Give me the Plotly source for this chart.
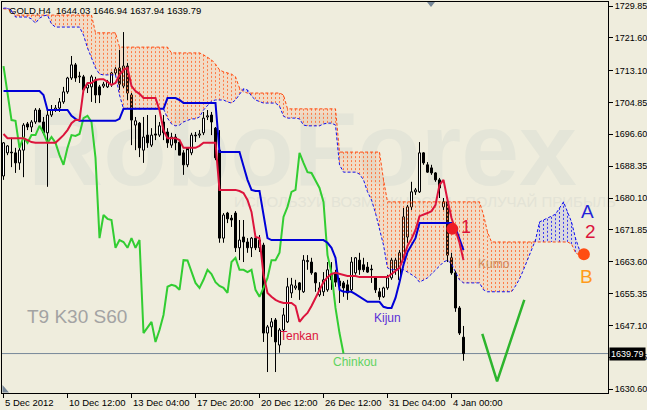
import plotly.graph_objects as go

# ---------------- data ----------------
opens = [1685.8, 1691.8, 1692.0, 1691.8, 1689.2, 1692.5, 1699.3, 1698.5, 1699.8, 1702.9,
         1699.8, 1697.0, 1701.6, 1702.9, 1703.4, 1705.0, 1707.6, 1711.2, 1714.6, 1711.5,
         1711.5, 1708.6, 1708.9, 1710.7, 1708.9, 1709.1, 1708.9, 1709.4, 1712.5, 1713.8,
         1709.1, 1714.3, 1706.8, 1699.0, 1699.5, 1692.5, 1696.4, 1693.8, 1696.7, 1696.4,
         1699.8, 1697.2, 1693.8, 1695.9, 1694.6, 1691.8, 1688.7, 1691.8, 1696.4, 1696.4,
         1697.0, 1701.1, 1701.6, 1698.2, 1692.5, 1669.7, 1676.2, 1674.9, 1676.2, 1667.2,
         1670.0, 1668.7, 1667.2, 1669.7, 1667.2, 1667.9, 1645.1, 1646.7, 1648.5, 1642.0,
         1645.9, 1648.0, 1655.5, 1656.8, 1658.1, 1655.8, 1663.6, 1663.5, 1660.7, 1655.0,
         1655.8, 1656.3, 1658.9, 1660.7, 1658.6, 1658.1, 1657.6, 1656.3, 1660.7, 1664.0,
         1662.8, 1662.2, 1661.7, 1659.4, 1655.8, 1654.5, 1656.8, 1659.4, 1661.5, 1658.9,
         1663.5, 1670.0, 1677.8, 1681.7, 1681.7, 1691.8, 1688.7, 1687.9, 1686.6, 1684.8,
         1677.8, 1679.1, 1664.6, 1660.7, 1651.6, 1644.03]
highs = [1694.6, 1693.8, 1695.7, 1693.1, 1693.3, 1699.5, 1699.8, 1700.3, 1703.4, 1703.4,
         1701.1, 1702.9, 1704.2, 1704.2, 1706.0, 1708.9, 1711.5, 1716.9, 1715.1, 1712.8,
         1712.0, 1709.9, 1712.0, 1711.5, 1709.4, 1710.2, 1710.7, 1712.8, 1714.0, 1718.5,
         1723.1, 1715.1, 1707.3, 1701.1, 1699.8, 1701.1, 1701.6, 1698.2, 1701.6, 1699.8,
         1701.6, 1698.2, 1697.0, 1696.7, 1695.1, 1692.5, 1692.5, 1697.0, 1697.2, 1697.7,
         1702.4, 1702.9, 1702.4, 1698.5, 1697.7, 1676.2, 1676.5, 1675.7, 1676.7, 1674.4,
         1674.4, 1669.7, 1670.0, 1670.0, 1670.5, 1668.5, 1647.2, 1649.0, 1649.0, 1646.4,
         1651.6, 1659.4, 1659.4, 1658.9, 1658.3, 1665.3, 1665.3, 1664.6, 1660.9, 1658.3,
         1660.9, 1663.5, 1663.5, 1661.5, 1659.4, 1658.6, 1658.9, 1664.8, 1664.8, 1665.9,
         1664.6, 1663.5, 1662.8, 1659.6, 1656.8, 1657.1, 1660.2, 1664.6, 1664.6, 1666.6,
         1677.5, 1678.3, 1684.3, 1682.7, 1694.6, 1692.0, 1689.4, 1688.7, 1686.8, 1685.3,
         1680.1, 1679.6, 1665.9, 1661.2, 1652.1, 1646.94]
lows = [1684.8, 1691.2, 1688.1, 1686.6, 1687.4, 1685.5, 1697.7, 1697.2, 1699.3, 1699.8,
        1696.4, 1683.0, 1701.1, 1702.4, 1702.4, 1704.5, 1707.1, 1710.7, 1710.2, 1709.9,
        1707.6, 1707.3, 1705.0, 1704.7, 1704.7, 1708.6, 1708.6, 1708.9, 1712.0, 1708.1,
        1708.6, 1705.5, 1693.8, 1692.5, 1690.7, 1689.2, 1693.1, 1693.3, 1695.1, 1695.9,
        1695.1, 1693.1, 1693.1, 1692.5, 1691.2, 1686.1, 1688.1, 1691.2, 1694.6, 1695.7,
        1696.4, 1700.3, 1696.4, 1689.9, 1668.5, 1668.5, 1673.6, 1672.6, 1666.1, 1664.0,
        1663.5, 1665.9, 1664.8, 1666.6, 1666.1, 1642.8, 1635.0, 1644.1, 1635.0, 1640.0,
        1645.4, 1647.7, 1654.2, 1656.3, 1653.7, 1655.5, 1661.5, 1660.2, 1655.8, 1654.5,
        1654.7, 1655.8, 1656.3, 1657.1, 1652.9, 1654.5, 1653.7, 1655.5, 1660.2, 1660.2,
        1660.9, 1660.7, 1658.1, 1655.5, 1653.7, 1654.2, 1656.3, 1658.9, 1660.2, 1657.6,
        1663.3, 1668.5, 1677.0, 1680.9, 1681.4, 1688.7, 1686.6, 1686.1, 1684.3, 1680.1,
        1677.0, 1663.5, 1660.2, 1650.6, 1644.6, 1637.94]
closes = [1694.4, 1693.6, 1691.8, 1689.2, 1692.5, 1699.0, 1698.5, 1699.8, 1702.9, 1699.8,
          1697.0, 1701.6, 1702.9, 1703.4, 1705.0, 1707.6, 1711.2, 1714.6, 1711.2, 1711.7,
          1708.1, 1709.4, 1711.5, 1706.8, 1706.8, 1709.6, 1710.2, 1712.5, 1713.5, 1709.6,
          1714.3, 1707.3, 1700.3, 1700.1, 1693.1, 1695.9, 1694.4, 1696.4, 1696.4, 1698.8,
          1697.0, 1694.4, 1695.9, 1694.4, 1691.2, 1688.7, 1693.1, 1696.4, 1696.2, 1696.7,
          1700.8, 1701.4, 1699.8, 1690.5, 1669.7, 1675.7, 1674.7, 1674.4, 1667.2, 1669.2,
          1668.7, 1667.2, 1669.7, 1667.2, 1669.2, 1645.1, 1646.7, 1648.0, 1642.8, 1645.9,
          1649.8, 1657.1, 1657.6, 1657.3, 1656.3, 1664.0, 1663.9, 1660.7, 1658.1, 1656.8,
          1658.9, 1661.5, 1660.4, 1658.3, 1657.3, 1656.8, 1655.5, 1663.5, 1664.6, 1661.5,
          1661.5, 1660.9, 1661.5, 1656.3, 1654.5, 1656.8, 1659.4, 1664.0, 1664.0, 1665.9,
          1675.2, 1677.8, 1681.7, 1682.2, 1691.8, 1689.2, 1686.8, 1686.6, 1684.8, 1682.7,
          1679.1, 1665.3, 1660.7, 1651.6, 1645.1, 1639.79]

tenkan = [1696.7, 1695.6, 1695.6, 1695.6, 1695.6, 1695.6, 1695.1, 1694.6, 1694.4, 1694.4,
          1694.4, 1694.4, 1694.4, 1694.4, 1695.4, 1696.4, 1697.7, 1699.5, 1700.3, 1700.3,
          1708.1, 1709.9, 1709.9, 1710.7, 1710.9, 1710.9, 1710.2, 1709.4, 1709.9, 1712.0,
          1713.3, 1713.8, 1709.1, 1707.8, 1707.1, 1706.0, 1706.0, 1706.0, 1706.0, 1702.9,
          1697.7, 1695.6, 1695.6, 1695.6, 1695.1, 1693.1, 1693.1, 1693.1, 1693.1, 1693.6,
          1694.4, 1694.4, 1694.4, 1694.4, 1682.2, 1682.2, 1682.2, 1682.2, 1682.2, 1681.9,
          1681.4, 1679.6, 1676.5, 1670.0, 1669.7, 1660.2, 1655.5, 1654.5, 1653.7, 1653.2,
          1652.9, 1652.9, 1652.9, 1652.1, 1648.0, 1649.3, 1650.3, 1652.1, 1654.2, 1656.3,
          1658.3, 1659.6, 1660.4, 1660.7, 1660.4, 1660.2, 1659.9, 1659.9, 1659.9, 1659.6,
          1659.6, 1659.6, 1659.6, 1659.6, 1659.6, 1659.6, 1659.6, 1660.4, 1661.2, 1662.0,
          1664.6, 1667.7, 1669.5, 1671.8, 1675.4, 1675.7, 1676.2, 1676.7, 1678.3, 1683.5,
          1684.8, 1679.6, 1674.9, 1671.8, 1668.5, 1664.0]
kijun = [1707.8, 1707.8, 1707.8, 1707.8, 1707.8, 1707.8, 1707.8, 1707.8, 1707.8, 1707.8,
         1706.8, 1702.9, 1702.9, 1702.9, 1702.9, 1702.9, 1702.9, 1701.4, 1700.6, 1700.1,
         1700.1, 1700.1, 1700.1, 1700.1, 1700.1, 1700.1, 1700.1, 1700.1, 1700.1, 1700.6,
         1703.2, 1703.2, 1703.2, 1703.2, 1703.2, 1703.2, 1703.2, 1703.2, 1703.2, 1703.2,
         1703.2, 1706.0, 1706.0, 1706.0, 1705.5, 1704.7, 1704.7, 1704.7, 1704.7, 1704.7,
         1704.7, 1704.7, 1704.7, 1704.7, 1692.0, 1692.0, 1692.0, 1692.0, 1692.0, 1692.0,
         1688.4, 1684.8, 1682.2, 1681.9, 1681.9, 1675.7, 1669.7, 1669.2, 1669.2, 1669.2,
         1669.2, 1669.2, 1669.2, 1669.2, 1669.2, 1669.2, 1669.2, 1669.2, 1669.2, 1669.2,
         1669.2, 1668.5, 1667.2, 1664.6, 1656.3, 1655.8, 1655.8, 1655.8, 1655.2, 1654.5,
         1653.7, 1653.2, 1653.2, 1653.2, 1653.2, 1651.9, 1651.6, 1651.6, 1654.2, 1658.3,
         1662.8, 1666.1, 1667.9, 1669.7, 1673.6, 1673.6, 1673.6, 1673.6, 1673.6, 1673.6,
         1673.6, 1673.6, 1673.6, 1672.3, 1669.2, 1666.6]
senkou_a = [1729.3, 1729.3, 1728.8, 1727.0, 1727.0, 1727.0, 1727.0, 1726.5, 1725.4, 1726.7,
            1727.3, 1727.5, 1725.2, 1724.4, 1724.4, 1724.4, 1724.4, 1724.4, 1724.4, 1724.4,
            1722.3, 1719.0, 1716.4, 1713.8, 1712.2, 1712.0, 1712.0, 1712.0, 1712.0, 1706.8,
            1703.2, 1703.2, 1703.2, 1703.2, 1703.2, 1703.2, 1703.2, 1703.2, 1703.2, 1703.2,
            1703.2, 1700.8, 1699.3, 1698.8, 1699.0, 1699.8, 1700.3, 1700.6, 1700.6, 1701.1,
            1702.9, 1704.2, 1705.2, 1705.5, 1705.5, 1705.5, 1705.0, 1704.7, 1705.5, 1707.1,
            1708.4, 1708.1, 1706.5, 1705.5, 1705.0, 1704.7, 1704.7, 1704.7, 1704.7, 1703.9,
            1701.3, 1700.8, 1700.8, 1700.8, 1700.6, 1699.0, 1698.8, 1698.8, 1698.8, 1698.8,
            1699.3, 1699.5, 1699.5, 1699.0, 1688.7, 1686.8, 1686.8, 1686.8, 1686.8, 1686.3,
            1684.8, 1681.7, 1679.6, 1676.2, 1672.3, 1667.9, 1662.0, 1661.5, 1661.5, 1661.5,
            1661.5, 1660.9, 1660.2, 1659.6, 1658.3, 1658.9, 1659.4, 1660.4, 1661.5, 1662.5,
            1663.5, 1664.0, 1663.0, 1660.9, 1658.9, 1658.1, 1658.1, 1658.1, 1658.1, 1658.1,
            1656.3, 1655.8, 1655.8, 1655.8, 1655.8, 1655.8, 1655.8, 1655.8, 1657.3, 1659.1,
            1661.5, 1664.0, 1666.9, 1669.2, 1673.9, 1674.4, 1674.7, 1675.2, 1675.9, 1677.5,
            1679.1, 1676.5, 1673.9, 1669.7, 1666.6, 1665.1]
senkou_b = [1729.1, 1729.1, 1728.3, 1727.5, 1727.5, 1727.5, 1727.5, 1727.5, 1727.5, 1727.5,
            1727.5, 1727.5, 1727.5, 1727.5, 1727.5, 1727.5, 1727.5, 1727.5, 1727.5, 1727.5,
            1727.5, 1727.5, 1727.5, 1722.9, 1722.9, 1722.9, 1722.9, 1722.9, 1722.9, 1719.2,
            1719.2, 1719.2, 1719.2, 1719.2, 1719.2, 1719.2, 1719.2, 1719.2, 1719.2, 1719.2,
            1719.2, 1719.2, 1717.7, 1717.7, 1717.7, 1717.7, 1717.7, 1717.7, 1717.7, 1717.7,
            1717.2, 1716.6, 1715.9, 1714.8, 1713.3, 1712.8, 1712.5, 1712.2, 1711.5, 1708.6,
            1707.6, 1707.3, 1707.3, 1707.3, 1707.3, 1707.3, 1707.3, 1707.3, 1707.3, 1707.3,
            1706.8, 1703.2, 1703.2, 1703.2, 1703.2, 1703.2, 1703.2, 1703.2, 1703.2, 1703.2,
            1703.2, 1703.2, 1703.2, 1703.2, 1692.0, 1692.0, 1692.0, 1692.0, 1692.0, 1692.0,
            1692.0, 1692.0, 1692.0, 1692.0, 1692.0, 1684.8, 1679.1, 1679.1, 1679.1, 1679.1,
            1679.1, 1679.1, 1679.1, 1679.1, 1679.1, 1679.1, 1679.1, 1679.1, 1679.1, 1679.1,
            1679.1, 1679.1, 1679.1, 1679.1, 1679.1, 1679.1, 1679.1, 1679.1, 1679.1, 1679.1,
            1675.7, 1671.3, 1668.7, 1668.7, 1668.7, 1668.7, 1668.7, 1668.7, 1668.7, 1668.7,
            1668.7, 1668.7, 1668.7, 1668.7, 1668.7, 1668.7, 1668.7, 1668.7, 1668.7, 1668.7,
            1668.7, 1668.7, 1668.2, 1665.9, 1665.3, 1665.1]

chinkou_shift = 30
x_tick_bars = [0, 16, 32, 48, 64, 80, 96, 112]
x_tick_labels = ["5 Dec 2012", "10 Dec 12:00", "13 Dec 04:00", "17 Dec 20:00",
                 "20 Dec 12:00", "26 Dec 12:00", "31 Dec 04:00", "4 Jan 00:00"]
y_tick_values = [1729.85, 1721.60, 1713.10, 1704.85, 1696.60, 1688.35, 1680.10,
                 1671.85, 1663.60, 1655.35, 1647.10, 1638.85, 1630.60]
last_price = 1639.79
signal_bar = [112.2]
signal_price = [1672.1]
cloud_end_bar = [145.1]
cloud_end_price = [1665.5]
forecast_bars = [119.7, 123.4, 130.2]
forecast_prices = [1644.9, 1632.6, 1653.7]

# ---------------- layout helpers (pixel -> paper) ----------------
W, H = 647, 410
PL, PR, PT, PB = 2, 608, 2, 393


def px(x):
    return (x - PL) / (PR - PL)


def py(y):
    return (PB - y) / (PB - PT)


FONT = "Liberation Sans, Arial, sans-serif"
BG = "#efeddd"

n = len(closes)
idx = list(range(n))
cloud_x = list(range(len(senkou_a)))
cloud_top = [max(a, b) for a, b in zip(senkou_a, senkou_b)]

fig = go.Figure()

# cloud tint (orange where span B is above, blue where span A is above)
fig.add_trace(go.Scatter(x=cloud_x, y=senkou_a, mode="lines", line=dict(width=0),
                         hoverinfo="skip", showlegend=False))
fig.add_trace(go.Scatter(x=cloud_x, y=cloud_top, mode="lines", line=dict(width=0),
                         fill="tonexty", fillcolor="rgba(255,125,70,0.15)",
                         hoverinfo="skip", showlegend=False))
fig.add_trace(go.Scatter(x=cloud_x, y=senkou_b, mode="lines", line=dict(width=0),
                         hoverinfo="skip", showlegend=False))
fig.add_trace(go.Scatter(x=cloud_x, y=cloud_top, mode="lines", line=dict(width=0),
                         fill="tonexty", fillcolor="rgba(50,50,235,0.10)",
                         hoverinfo="skip", showlegend=False))

# cloud hatching (dotted columns)
ox, oy, ux, uy = [], [], [], []
for i in cloud_x:
    a, b = senkou_a[i], senkou_b[i]
    if b > a + 0.05:
        ox += [i, i, None]; oy += [b, a, None]
    elif a > b + 0.05:
        ux += [i, i, None]; uy += [a, b, None]
fig.add_trace(go.Scatter(x=ox, y=oy, mode="lines",
                         line=dict(color="#ff7a45", width=1, dash="2px,2px"),
                         hoverinfo="skip", showlegend=False))
fig.add_trace(go.Scatter(x=ux, y=uy, mode="lines",
                         line=dict(color="#3a3af0", width=1, dash="2px,2px"),
                         hoverinfo="skip", showlegend=False))

fig.add_trace(go.Scatter(x=cloud_x, y=senkou_b, mode="lines",
                         line=dict(color="#ff4a10", width=1, dash="3px,2px"),
                         hoverinfo="skip", showlegend=False))
fig.add_trace(go.Scatter(x=cloud_x, y=senkou_a, mode="lines",
                         line=dict(color="#1010ee", width=1, dash="3px,2px"),
                         hoverinfo="skip", showlegend=False))

# candle wicks (split so they don't cross bodies)
wx, wy = [], []
for i in idx:
    top = max(opens[i], closes[i])
    bot = min(opens[i], closes[i])
    wx += [i, i, None, i, i, None]
    wy += [highs[i], top, None, bot, lows[i], None]
fig.add_trace(go.Scatter(x=wx, y=wy, mode="lines", line=dict(color="black", width=1),
                         hoverinfo="skip", showlegend=False))

# candle bodies
bx_up, bb_up, bh_up, bx_dn, bb_dn, bh_dn = [], [], [], [], [], []
for i in idx:
    b = min(opens[i], closes[i])
    h = max(abs(closes[i] - opens[i]), 0.15)
    if closes[i] >= opens[i]:
        bx_up.append(i); bb_up.append(b); bh_up.append(h)
    else:
        bx_dn.append(i); bb_dn.append(b); bh_dn.append(h)
fig.add_trace(go.Bar(x=bx_up, y=bh_up, base=bb_up, width=0.5,
                     marker=dict(color="white", line=dict(color="black", width=1)),
                     hoverinfo="skip", showlegend=False))
fig.add_trace(go.Bar(x=bx_dn, y=bh_dn, base=bb_dn, width=0.5,
                     marker=dict(color="black", line=dict(color="black", width=1)),
                     hoverinfo="skip", showlegend=False))

# chinkou (close shifted back)
fig.add_trace(go.Scatter(x=[i - chinkou_shift for i in idx[chinkou_shift:]],
                         y=closes[chinkou_shift:], mode="lines",
                         line=dict(color="#32cd32", width=2),
                         hoverinfo="skip", showlegend=False))
fig.add_trace(go.Scatter(x=idx, y=kijun, mode="lines",
                         line=dict(color="#0000d8", width=2),
                         hoverinfo="skip", showlegend=False))
fig.add_trace(go.Scatter(x=idx, y=tenkan, mode="lines",
                         line=dict(color="#dc143c", width=2),
                         hoverinfo="skip", showlegend=False))

# forecast V line and markers
fig.add_trace(go.Scatter(x=forecast_bars, y=forecast_prices, mode="lines",
                         line=dict(color="#2db52d", width=2.5),
                         hoverinfo="skip", showlegend=False))
fig.add_trace(go.Scatter(x=signal_bar, y=signal_price, mode="markers",
                         marker=dict(color="#ee1c25", size=12),
                         hoverinfo="skip", showlegend=False))
fig.add_trace(go.Scatter(x=cloud_end_bar, y=cloud_end_price, mode="markers",
                         marker=dict(color="#ff4d12", size=12),
                         hoverinfo="skip", showlegend=False))

shapes = [
    # watermark
    dict(type="rect", xref="paper", yref="paper", x0=px(40), x1=px(565), y0=py(215), y1=py(78),
         line=dict(width=0), fillcolor="rgba(0,0,0,0)", layer="below",
         label=dict(text="RoboForex",
                    font=dict(size=104, color="#e4e5d8", family=FONT, weight="bold"),
                    textposition="top center")),
    dict(type="rect", xref="paper", yref="paper", x0=px(270), x1=px(580), y0=py(208), y1=py(192),
         line=dict(width=0), fillcolor="rgba(0,0,0,0)", layer="below",
         label=dict(text="ИСПОЛЬЗУЙ ВОЗМОЖНОСТИ · ПОЛУЧАЙ ПРИБЫЛЬ",
                    font=dict(size=15, color="#e3e3d6", family=FONT),
                    textposition="middle center")),
    # last price line
    dict(type="line", xref="paper", yref="y", x0=0, x1=1, y0=last_price, y1=last_price,
         line=dict(color="#778899", width=1), layer="below"),
    # chart shift marker
    dict(type="path", xref="paper", yref="paper",
         path=f"M {px(427)} {py(2)} L {px(435)} {py(2)} L {px(431)} {py(7)} Z",
         fillcolor="#778899", line=dict(width=0)),
    dict(type="path", xref="paper", yref="paper",
         path=f"M {px(2.5)} {py(385)} L {px(2.5)} {py(392.5)} L {px(9)} {py(392.5)} Z",
         fillcolor="#778899", line=dict(width=0)),
]

ann = []
for b, t in zip(x_tick_bars, x_tick_labels):
    ann.append(dict(x=b, y=0, xref="x", yref="paper", text=t, showarrow=False,
                    xanchor="left", yanchor="middle", yshift=-9, xshift=-1,
                    font=dict(size=9.5, color="black", family=FONT)))
ann.append(dict(x=1, y=last_price, xref="paper", yref="y", text="1639.79", showarrow=False,
                xanchor="left", yanchor="middle", xshift=1, bgcolor="black", borderpad=1,
                font=dict(size=9, color="white", family=FONT)))
ann.append(dict(x=px(7), y=py(10), xref="paper", yref="paper",
                text="GOLD,H4\u00a0 1644.03 1646.94 1637.94 1639.79", showarrow=False,
                xanchor="left", yanchor="middle", font=dict(size=9.5, color="black", family=FONT)))


def label(x, y, text, color, size, anchor="center"):
    ann.append(dict(x=px(x), y=py(y), xref="paper", yref="paper", text=text, showarrow=False,
                    xanchor=anchor, yanchor="middle", font=dict(size=size, color=color, family=FONT)))


label(25, 316, "T9 K30 S60", "#a3a3a3", 19, "left")
label(299, 336, "Tenkan", "#dc143c", 12)
label(387, 318, "Kijun", "#5b2fd6", 12)
label(355, 362, "Chinkou", "#5fd35f", 12)
label(494, 264, "Kumo", "#cf8a5a", 12)
label(466, 227, "1", "#dc143c", 18)
label(587, 211, "A", "#2424d8", 19)
label(590.5, 231, "2", "#dc143c", 19)
label(586.5, 276.5, "B", "#ff9a1a", 19)

ymax = 1731.41 - 0.25914 * PT
ymin = 1731.41 - 0.25914 * PB
x0 = (PL - 3.5) / 4
x1 = (PR - 3.5) / 4

fig.update_layout(
    width=W, height=H, margin=dict(l=PL, r=W - PR, t=PT, b=H - PB, autoexpand=False),
    paper_bgcolor=BG, plot_bgcolor=BG, barmode="overlay", showlegend=False,
    shapes=shapes, annotations=ann, font=dict(family=FONT, size=9.5, color="black"),
    xaxis=dict(range=[x0, x1], showgrid=False, zeroline=False, showline=True, mirror=True,
               linecolor="black", linewidth=1, tickvals=x_tick_bars, ticktext=[""] * len(x_tick_bars),
               ticks="outside", ticklen=4, tickcolor="black", fixedrange=True, automargin=False),
    yaxis=dict(range=[ymin, ymax], side="right", showgrid=False, zeroline=False, showline=True,
               mirror=True, linecolor="black", linewidth=1, tickvals=y_tick_values,
               ticktext=[f"{v:.2f}" for v in y_tick_values], ticks="outside", ticklen=4,
               tickcolor="black", tickfont=dict(size=9, color="black", family=FONT),
               fixedrange=True, automargin=False),
)

fig.write_html("out.html", config={"displayModeBar": False},
               post_script="document.body.style.margin='0';document.body.style.overflow='hidden';")
